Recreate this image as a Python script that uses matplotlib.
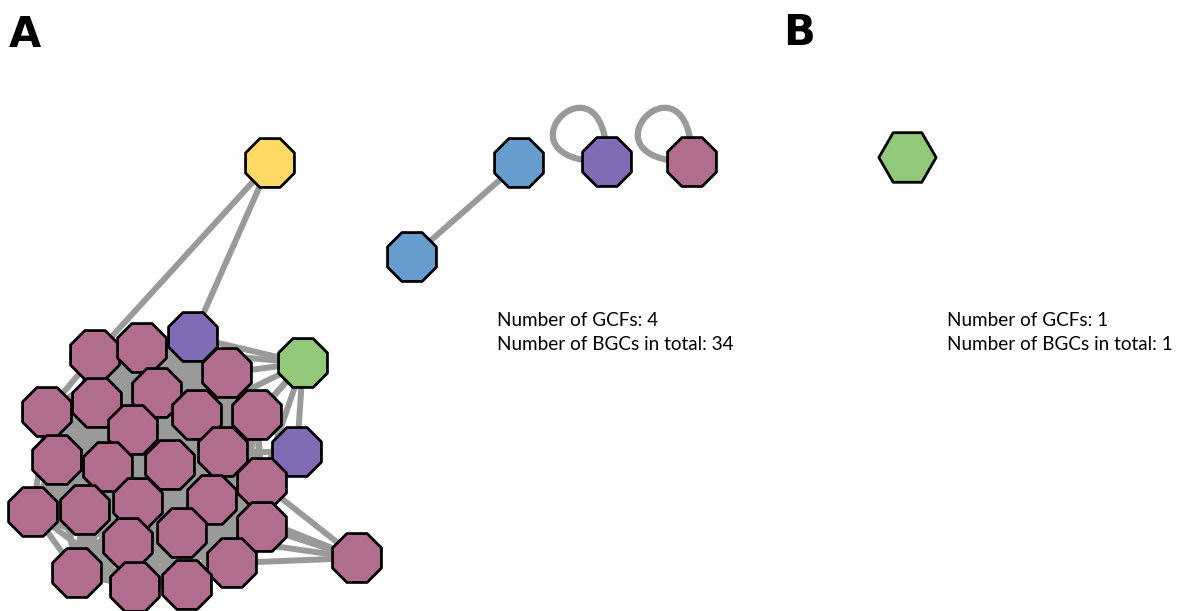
import itertools
import matplotlib
matplotlib.use('Agg')
import matplotlib.pyplot as plt
from matplotlib.path import Path
from matplotlib.patches import PathPatch

# ── Node layout (canvas pixel coordinates, y grows downward) ────────────────
# main component of panel A
node_x = [270, 193, 303, 297,
          95, 142, 227, 157, 97, 47, 197, 257, 133, 57, 108, 170, 223,
          262, 138, 212, 33, 85, 128, 182, 262, 357, 77, 232, 135, 187]
node_y = [163, 337, 363, 452,
          355, 348, 373, 393, 403, 412, 415, 415, 430, 460, 467, 465, 452,
          483, 503, 500, 512, 510, 543, 533, 527, 558, 573, 563, 587, 585]
node_cls = ['yellow', 'purple', 'green', 'purple'] + ['pink'] * 26

# densely linked core of the main component
core = [1] + list(range(4, 25)) + [26, 27, 28, 29]
extra_edges = [(0, 4), (0, 1),
               (2, 1), (2, 5), (2, 6), (2, 10), (2, 11), (2, 16), (2, 3), (2, 17),
               (3, 11), (3, 16), (3, 17),
               (25, 17), (25, 24), (25, 27), (25, 19), (25, 23)]

# small families of panel A
small_x = [519, 412, 607, 692]
small_y = [163, 257, 162, 162]
small_cls = ['blue', 'blue', 'purple', 'pink']
small_edges = [(0, 1)]
small_loops = [2, 3]

# panel B
b_x = [907]
b_y = [157]
b_cls = ['green']

n_gcf = [4, 1]
n_bgc = [34, 1]

COLORS = {'pink': '#B06D8E', 'purple': '#806CB4', 'blue': '#679CCF',
          'green': '#92C87A', 'yellow': '#FFD966'}
EDGE = '#9A9A9A'

W, H = 1204, 611
fig = plt.figure(figsize=(W / 100, H / 100), dpi=100)
ax = fig.add_axes([0, 0, 1, 1])
ax.set_xlim(0, W)
ax.set_ylim(H, 0)
ax.axis('off')


def draw_edge(x0, y0, x1, y1):
    ax.plot([x0, x1], [y0, y1], color=EDGE, lw=4.3, zorder=1,
            solid_capstyle='butt')


def draw_loop(x, y, r=122):
    verts = [(x, y), (x - r, y), (x, y - r), (x, y)]
    codes = [Path.MOVETO, Path.CURVE4, Path.CURVE4, Path.CURVE4]
    ax.add_patch(PathPatch(Path(verts, codes), fill=False, ec=EDGE,
                           lw=4.5, zorder=1))


for i, j in itertools.combinations(core, 2):
    draw_edge(node_x[i], node_y[i], node_x[j], node_y[j])
for i, j in extra_edges:
    draw_edge(node_x[i], node_y[i], node_x[j], node_y[j])
for i, j in small_edges:
    draw_edge(small_x[i], small_y[i], small_x[j], small_y[j])
for i in small_loops:
    draw_loop(small_x[i], small_y[i])

ax.scatter(node_x, node_y, s=1450, marker='8',
           c=[COLORS[c] for c in node_cls], edgecolors='black',
           linewidths=2.0, zorder=2)
ax.scatter(small_x, small_y, s=1450, marker='8',
           c=[COLORS[c] for c in small_cls], edgecolors='black',
           linewidths=2.0, zorder=2)
ax.scatter(b_x, b_y, s=1700, marker='H',
           c=[COLORS[c] for c in b_cls], edgecolors='black',
           linewidths=2.0, zorder=2)

# panel letters
ax.text(9, 47, 'A', fontsize=30, fontweight='bold', va='baseline', ha='left')
ax.text(783, 45, 'B', fontsize=30, fontweight='bold', va='baseline', ha='left')

# summary text
for tx, g, b in [(497, n_gcf[0], n_bgc[0]), (947, n_gcf[1], n_bgc[1])]:
    ax.text(tx, 326, f'Number of GCFs: {g}', fontsize=13.6, family='Lato',
            va='baseline', ha='left')
    ax.text(tx, 350, f'Number of BGCs in total: {b}', fontsize=13.6,
            family='Lato', va='baseline', ha='left')

fig.savefig('out.png', dpi=100)
